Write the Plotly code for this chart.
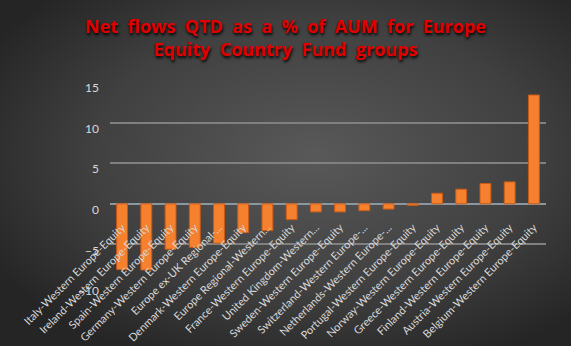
import base64
import plotly.graph_objects as go

categories = [
    "Italy-Western Europe-Equity",
    "Ireland-Western Europe-Equity",
    "Spain-Western Europe-Equity",
    "Germany-Western Europe-Equity",
    "Europe ex-UK Regional-...",
    "Denmark-Western Europe-Equity",
    "Europe Regional-Western...",
    "France-Western Europe-Equity",
    "United Kingdom-Western...",
    "Sweden-Western Europe-Equity",
    "Switzerland-Western Europe-...",
    "Netherlands-Western Europe-...",
    "Portugal-Western Europe-Equity",
    "Norway-Western Europe-Equity",
    "Greece-Western Europe-Equity",
    "Finland-Western Europe-Equity",
    "Austria-Western Europe-Equity",
    "Belgium-Western Europe-Equity",
]
values = [-8.1, -8.15, -5.6, -5.35, -4.85, -3.55, -3.3, -1.95, -1.0,
          -1.0, -0.85, -0.65, -0.2, 1.3, 1.8, 2.5, 2.7, 13.4]
y_ticks = [-10, -5, 0, 5, 10, 15]

W, H = 571, 346
ML, MR, MT, MB = 110, 25, 82, 61
PW, PH = W - ML - MR, H - MT - MB

svg = (
    f"<svg xmlns='http://www.w3.org/2000/svg' width='{W}' height='{H}' viewBox='0 0 {W} {H}' preserveAspectRatio='none'>"
    "<defs><radialGradient id='g' cx='55%' cy='45%' r='65%'>"
    "<stop offset='0' stop-color='#595959'/>"
    "<stop offset='0.6' stop-color='#404040'/>"
    "<stop offset='1' stop-color='#252525'/>"
    "</radialGradient></defs>"
    f"<rect x='0' y='0' width='{W}' height='{H}' fill='url(#g)'/></svg>"
)
bg_uri = "data:image/svg+xml;base64," + base64.b64encode(svg.encode()).decode()

SP = "\u00a0 "
title_text = (SP.join("Net flows QTD as a % of AUM for Europe".split(" "))
              + "<br>" + SP.join("Equity Country Fund groups".split(" ")))

fig = go.Figure()
fig.add_trace(go.Bar(
    x=categories,
    y=values,
    marker=dict(color="#F5802E", line=dict(color="#C85A18", width=1)),
))

fig.update_layout(
    width=W, height=H,
    margin=dict(l=ML, r=MR, t=MT, b=MB, autoexpand=False),
    paper_bgcolor="#333333",
    plot_bgcolor="rgba(0,0,0,0)",
    showlegend=False,
    bargap=0.55,
    title=dict(
        text=title_text,
        x=0.5, xanchor="center",
        xref="container",
        yref="container", y=1 - 33 / H, yanchor="top",
        font=dict(family="Open Sans", size=18, color="#E00000",
                  weight="bold", shadow="1px 2px 3px #000000"),
    ),
    images=[dict(
        source=bg_uri, xref="paper", yref="paper",
        x=-ML / PW, y=1 + MT / PH, sizex=W / PW, sizey=H / PH,
        xanchor="left", yanchor="top", sizing="stretch", layer="below",
    )],
    xaxis=dict(
        anchor="free", position=0.33, automargin=False,
        tickangle=-45,
        tickfont=dict(family="Lato", size=11, color="#D9D9D9"),
        showgrid=False, zeroline=False, showline=False, ticks="",
    ),
    yaxis=dict(
        range=[-10, 15], automargin=False,
        tickvals=y_ticks,
        tickfont=dict(family="Lato", size=12, color="#D9D9D9"),
        gridcolor="#808080", gridwidth=1.5,
        zeroline=True, zerolinecolor="#8A96A0", zerolinewidth=1.5,
        showline=False, ticks="",
        ticklabelstandoff=10, ticklabelshift=6,
    ),
)

fig.write_html("out.html")
